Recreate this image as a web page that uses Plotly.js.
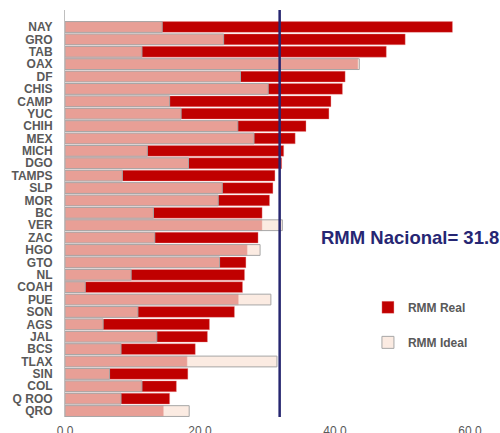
<!DOCTYPE html>
<html>
<head>
<meta charset="utf-8">
<script src="https://cdn.plot.ly/plotly-3.0.1.min.js"></script>
<style>html,body{margin:0;padding:0;background:#fff;}#chart{width:500px;height:433px;}</style>
</head>
<body>
<div id="chart"></div>
<script>
const states = ["NAY","GRO","TAB","OAX","DF","CHIS","CAMP","YUC","CHIH","MEX","MICH","DGO","TAMPS","SLP","MOR","BC","VER","ZAC","HGO","GTO","NL","COAH","PUE","SON","AGS","JAL","BCS","TLAX","SIN","COL","Q ROO","QRO"];
const rmmReal  = [57.4,50.4,47.6,43.4,41.5,41.1,39.4,39.1,35.7,34.1,32.4,32.1,31.1,30.8,30.3,29.2,29.2,28.6,27.0,26.8,26.6,26.3,25.7,25.1,21.4,21.1,19.3,18.1,18.2,16.5,15.5,14.6];
const rmmIdeal = [14.4,23.5,11.4,43.6,26.0,30.1,15.5,17.2,25.6,28.0,12.2,18.3,8.5,23.3,22.7,13.1,32.2,13.3,28.9,22.9,9.8,3.0,30.5,10.8,5.65,13.6,8.3,31.4,6.6,11.4,8.3,18.4];
const rmmNacional = 31.8;
const xTicks = [0,20,40,60];
const xTickText = ["0.0","20.0","40.0","60.0"];

const traces = [
  {
    type: "bar", orientation: "h", name: "RMM Real",
    y: states, x: rmmReal,
    marker: {color: "#C00000", line: {color: "rgba(235,150,150,0.6)", width: 0.6}},
    legendgroup: "a", hoverinfo: "x+y"
  },
  {
    type: "bar", orientation: "h", name: "RMM Ideal",
    y: states, x: rmmIdeal,
    marker: {color: "rgba(249,226,214,0.7)", line: {color: "#A6A6A6", width: 1}},
    legendgroup: "b", hoverinfo: "x+y"
  }
];

const layout = {
  width: 500, height: 433,
  margin: {l: 64.5, r: 30, t: 10, b: 16},
  paper_bgcolor: "#ffffff", plot_bgcolor: "#ffffff",
  barmode: "overlay", bargap: 0.13,
  showlegend: true,
  legend: {
    x: 0.748, xanchor: "left", y: 0.305, yanchor: "top",
    font: {family: "Liberation Sans, Arial, sans-serif", size: 12, color: "#595959", weight: "bold"},
    tracegroupgap: 16, bgcolor: "rgba(0,0,0,0)", traceorder: "grouped"
  },
  xaxis: {
    range: [0, 60], tickvals: xTicks, ticktext: xTickText,
    showgrid: false, zeroline: false, showline: false, ticks: "", ticklabelstandoff: 5,
    tickfont: {family: "Liberation Sans, Arial, sans-serif", size: 12, color: "#595959"}
  },
  yaxis: {
    type: "category", categoryorder: "array", categoryarray: states,
    tickmode: "array", tickvals: states, ticktext: states,
    range: [31.48, -1.37],
    showgrid: false, zeroline: false, showline: true, linecolor: "#BFBFBF", linewidth: 1,
    ticks: "", ticklabelstandoff: 9,
    tickfont: {family: "Liberation Sans, Arial, sans-serif", size: 12, color: "#595959", weight: "bold"}
  },
  shapes: [
    {type: "line", xref: "x", yref: "paper", x0: rmmNacional, x1: rmmNacional, y0: 0, y1: 1,
     line: {color: "#262670", width: 2.5}}
  ],
  annotations: [
    {xref: "paper", yref: "paper", x: 0.627, y: 0.44, xanchor: "left", yanchor: "middle",
     text: "RMM Nacional= " + rmmNacional.toFixed(1), showarrow: false,
     font: {family: "Liberation Sans, Arial, sans-serif", size: 18.5, color: "#262673", weight: "bold"}}
  ]
};

Plotly.newPlot("chart", traces, layout, {displayModeBar: false, staticPlot: true});
</script>
</body>
</html>
